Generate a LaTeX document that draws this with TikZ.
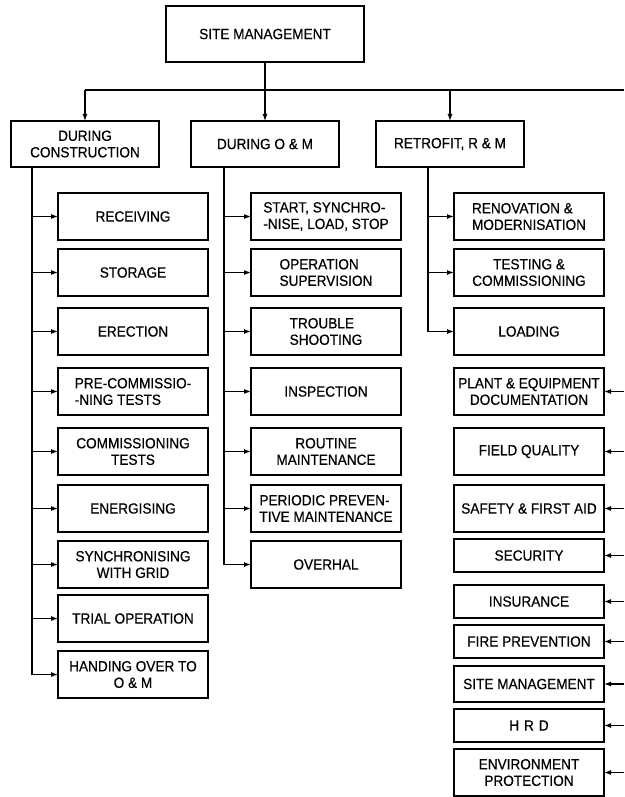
\documentclass[tikz,border=0pt]{standalone}
\usepackage{fontspec}
\setmainfont{Liberation Sans}[FakeStretch=0.92,FakeBold=0.5]
\usetikzlibrary{positioning,arrows.meta}

\begin{document}
\begin{tikzpicture}[
  x=1pt, y=1pt, line width=1.2pt,
  >={Latex[length=7pt,width=5pt]},
  box/.style={draw,outer sep=0pt,minimum width=150pt,minimum height=47pt,inner xsep=2pt,inner ysep=1pt,align=center,font=\fontsize{14.8}{16.5}\selectfont},
  lbox/.style={box,align=left},
  sbox/.style={box,minimum height=33pt},
  headbox/.style={box,minimum width=148pt,minimum height=46pt}
]
  \useasboundingbox (0,0) rectangle (624,-797);

  % top of the chart
  \node[box,minimum width=198pt,minimum height=56pt] (site) at (265,-34) {SITE MANAGEMENT};
  \node[headbox] (dcon) at (85,-144) {DURING\\CONSTRUCTION};
  \node[headbox] (dom) at (265,-144) {DURING O \& M};
  \node[headbox] (retro) at (450,-144) {RETROFIT, R \& M};

  \coordinate (busW) at (85,-90);
  \coordinate (busE) at (624,-90);
  \coordinate (dconT) at (32,-167);
  \coordinate (domT) at (224,-167);
  \coordinate (retroT) at (428,-167);
  \coordinate (rtE) at (624,0);

  % during construction
  \node[box] (recv) at (133,-216.5) {RECEIVING};
  \node[box,below=9pt of recv] (stor) {STORAGE};
  \node[box,below=12pt of stor] (erec) {ERECTION};
  \node[lbox,below=13pt of erec] (precom) {PRE-COMMISSIO-\\-NING TESTS};
  \node[box,below=13pt of precom] (comm) {COMMISSIONING\\TESTS};
  \node[box,below=10pt of comm] (ener) {ENERGISING};
  \node[box,below=9pt of ener] (sync) {SYNCHRONISING\\WITH GRID};
  \node[box,below=7pt of sync] (trial) {TRIAL OPERATION};
  \node[box,below=9pt of trial] (handover) {HANDING OVER TO\\O \& M};

  % during O & M
  \node[lbox,right=43pt of recv] (start) {START, SYNCHRO-\\-NISE, LOAD, STOP};
  \node[lbox,right=43pt of stor] (opsup) {OPERATION\\SUPERVISION};
  \node[lbox,right=43pt of erec] (trouble) {TROUBLE\\SHOOTING};
  \node[box,right=43pt of precom] (inspect) {INSPECTION};
  \node[box,right=43pt of comm] (routine) {ROUTINE\\MAINTENANCE};
  \node[lbox,right=43pt of ener] (periodic) {PERIODIC PREVEN-\\TIVE MAINTENANCE};
  \node[box,right=43pt of sync] (overhal) {OVERHAL};

  % retrofit and common items
  \node[lbox,right=53pt of start] (renov) {RENOVATION \&\\MODERNISATION};
  \node[box,right=53pt of opsup] (testcom) {TESTING \&\\COMMISSIONING};
  \node[box,right=53pt of trouble] (loading) {LOADING};
  \node[box,right=53pt of inspect] (plantdoc) {PLANT \& EQUIPMENT\\DOCUMENTATION};
  \node[box,right=53pt of routine] (fieldq) {FIELD QUALITY};
  \node[box,right=53pt of periodic] (safety) {SAFETY \& FIRST AID};
  \node[sbox,below=7pt of safety] (security) {SECURITY};
  \node[sbox,below=13pt of security] (insure) {INSURANCE};
  \node[sbox,below=7pt of insure] (fireprev) {FIRE PREVENTION};
  \node[sbox,minimum height=36pt,below=8pt of fireprev] (sitemgmt) {SITE MANAGEMENT};
  \node[sbox,below=7pt of sitemgmt] (hrd) {H\,\,R\,\,D};
  \node[box,below=7pt of hrd] (environ) {ENVIRONMENT\\PROTECTION};

  \draw[->] (site) -- (dom);
  \draw (busW) -- (busE);
  \draw[->] (busW) -- (dcon);
  \draw[->] (busW -| retro) -- (retro);

  \draw[->] (dconT) |- (recv);
  \draw[->] (dconT) |- (stor);
  \draw[->] (dconT) |- (erec);
  \draw[->] (dconT) |- (precom);
  \draw[->] (dconT) |- (comm);
  \draw[->] (dconT) |- (ener);
  \draw[->] (dconT) |- (sync);
  \draw[->] (dconT) |- (trial);
  \draw[->] (dconT) |- (handover);

  \draw[->] (domT) |- (start);
  \draw[->] (domT) |- (opsup);
  \draw[->] (domT) |- (trouble);
  \draw[->] (domT) |- (inspect);
  \draw[->] (domT) |- (routine);
  \draw[->] (domT) |- (periodic);
  \draw[->] (domT) |- (overhal);

  \draw[->] (retroT) |- (renov);
  \draw[->] (retroT) |- (testcom);
  \draw[->] (retroT) |- (loading);

  \draw[->] (plantdoc.east -| rtE) -- (plantdoc);
  \draw[->] (fieldq.east -| rtE) -- (fieldq);
  \draw[->] (safety.east -| rtE) -- (safety);
  \draw[->] (security.east -| rtE) -- (security);
  \draw[->] (insure.east -| rtE) -- (insure);
  \draw[->] (fireprev.east -| rtE) -- (fireprev);
  \draw[->] (sitemgmt.east -| rtE) -- (sitemgmt);
  \draw[->] (hrd.east -| rtE) -- (hrd);
  \draw[->] (environ.east -| rtE) -- (environ);
\end{tikzpicture}
\end{document}
